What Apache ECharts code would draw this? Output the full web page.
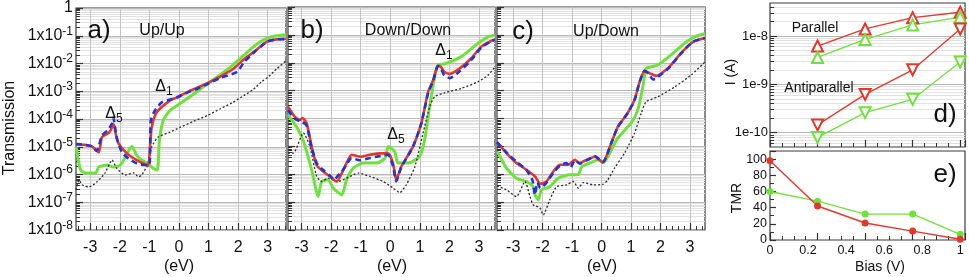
<!DOCTYPE html>
<html><head><meta charset="utf-8">
<script src="https://cdn.jsdelivr.net/npm/echarts@6/dist/echarts.min.js"></script>
<style>html,body{margin:0;padding:0;background:#fff}#c{width:969px;height:277px}</style>
</head><body><div id="c"></div>
<script>
// ---------- DATA (x in eV, y as log10 of transmission) ----------
const aGreenLog = [[-3.48,-5.0],[-3.4,-5.5],[-3.32,-5.84],[-3.15,-5.95],[-2.82,-5.95],[-2.71,-5.73],[-2.43,-5.66],[-2.2,-5.73],[-1.98,-5.66],[-1.81,-5.37],[-1.59,-4.98],[-1.43,-5.3],[-1.26,-5.48],[-1.04,-5.6],[-0.87,-5.78],[-0.73,-5.84],[-0.66,-4.77],[-0.53,-4.05],[-0.3,-3.69],[0.03,-3.45],[0.5,-3.1],[1.0,-2.7],[1.4,-2.4],[1.83,-2.05],[2.2,-1.7],[2.5,-1.42],[2.75,-1.22],[3.0,-1.08],[3.3,-1.0],[3.62,-0.96]];
const aBlackLog = [[-3.48,-6.56],[-3.38,-6.2],[-3.26,-6.38],[-3.04,-6.45],[-2.78,-6.27],[-2.5,-5.95],[-2.26,-5.48],[-2.1,-5.78],[-1.81,-6.02],[-1.53,-5.94],[-1.37,-6.08],[-1.26,-6.02],[-1.04,-5.6],[-0.92,-5.0],[-0.7,-4.65],[-0.3,-4.47],[0.04,-4.3],[0.5,-4.08],[0.97,-3.87],[1.4,-3.63],[1.83,-3.4],[2.2,-3.15],[2.5,-2.95],[2.8,-2.65],[3.0,-2.5],[3.3,-2.2],[3.62,-1.9]];
const aRedLog = [[-3.48,-4.91],[-3.2,-4.93],[-2.93,-5.0],[-2.71,-5.2],[-2.6,-4.65],[-2.37,-4.5],[-2.2,-4.2],[-2.15,-4.47],[-2.04,-4.88],[-1.76,-5.24],[-1.43,-5.48],[-1.15,-5.63],[-1.04,-5.7],[-0.97,-4.9],[-0.92,-4.3],[-0.75,-3.76],[-0.3,-3.33],[-0.08,-3.23],[0.3,-3.02],[0.6,-2.88],[1.0,-2.69],[1.4,-2.47],[1.83,-2.2],[2.2,-1.85],[2.58,-1.54],[2.8,-1.35],[3.0,-1.2],[3.3,-1.13],[3.62,-1.11]];
const aBlueLog = [[-3.48,-4.9],[-3.2,-4.93],[-2.95,-4.98],[-2.78,-5.15],[-2.6,-4.59],[-2.4,-4.4],[-2.26,-4.15],[-2.22,-3.95],[-2.1,-4.7],[-1.93,-5.19],[-1.71,-5.42],[-1.43,-5.6],[-1.15,-5.66],[-1.0,-5.66],[-0.95,-4.05],[-0.81,-3.69],[-0.58,-3.4],[-0.3,-3.3],[-0.08,-3.23],[0.3,-3.04],[0.6,-2.92],[1.0,-2.72],[1.4,-2.52],[1.97,-2.3],[2.2,-1.95],[2.58,-1.56],[2.8,-1.36],[3.0,-1.2],[3.3,-1.13],[3.62,-1.12]];

const bGreenLog = [[-3.46,-3.87],[-3.17,-4.3],[-2.95,-4.77],[-2.66,-5.84],[-2.44,-6.8],[-2.32,-6.26],[-2.1,-6.2],[-1.93,-6.5],[-1.64,-6.74],[-1.48,-6.2],[-1.25,-5.78],[-0.91,-5.6],[-0.46,-5.6],[-0.18,-5.42],[-0.07,-5.0],[0.15,-5.19],[0.26,-5.6],[0.6,-5.6],[0.99,-5.37],[1.16,-4.77],[1.33,-3.58],[1.5,-2.5],[1.61,-2.08],[1.84,-2.04],[2.4,-1.78],[2.97,-1.3],[3.3,-1.08],[3.54,-1.0]];
const bBlackLog = [[-3.46,-5.24],[-3.28,-5.24],[-2.94,-4.52],[-2.72,-5.0],[-2.49,-6.08],[-2.32,-6.26],[-2.1,-6.14],[-1.76,-6.26],[-1.48,-6.14],[-1.08,-5.96],[-0.69,-6.08],[-0.24,-6.26],[0.1,-6.5],[0.32,-6.66],[0.54,-6.38],[0.83,-5.73],[1.11,-4.52],[1.33,-3.58],[1.5,-3.22],[1.84,-3.08],[2.4,-2.92],[2.97,-2.68],[3.3,-2.45],[3.54,-2.15]];
const bRedLog = [[-3.46,-3.58],[-3.22,-3.95],[-3.05,-4.05],[-2.97,-3.98],[-2.83,-4.17],[-2.66,-5.0],[-2.49,-5.68],[-2.27,-5.9],[-2.04,-6.08],[-1.81,-6.26],[-1.64,-5.96],[-1.48,-5.6],[-1.31,-5.3],[-1.03,-5.37],[-0.69,-5.3],[-0.35,-5.25],[-0.08,-5.25],[0.09,-5.6],[0.2,-6.2],[0.37,-5.73],[0.77,-5.0],[1.05,-4.17],[1.28,-3.04],[1.45,-2.62],[1.61,-2.11],[1.71,-2.15],[1.82,-2.32],[2.01,-2.4],[2.35,-2.2],[2.74,-1.84],[3.08,-1.42],[3.42,-1.21],[3.54,-1.17]];
const bBlueLog = [[-3.46,-3.7],[-3.22,-4.02],[-3.0,-4.12],[-2.83,-4.25],[-2.66,-5.05],[-2.49,-5.6],[-2.27,-5.85],[-2.04,-6.05],[-1.9,-6.2],[-1.81,-6.1],[-1.64,-5.9],[-1.48,-5.65],[-1.31,-5.42],[-1.03,-5.5],[-0.69,-5.42],[-0.35,-5.35],[-0.08,-5.3],[0.09,-5.7],[0.2,-6.25],[0.37,-5.75],[0.77,-5.0],[1.05,-4.17],[1.28,-3.08],[1.45,-2.65],[1.61,-2.12],[1.71,-2.2],[1.82,-2.45],[2.01,-2.55],[2.35,-2.3],[2.74,-1.9],[3.08,-1.45],[3.42,-1.22],[3.54,-1.18]];

const cGreenLog = [[-3.55,-5.2],[-3.51,-5.24],[-3.23,-5.78],[-2.89,-6.14],[-2.55,-6.26],[-2.32,-6.45],[-2.26,-6.74],[-2.15,-6.92],[-2.04,-6.56],[-1.76,-6.45],[-1.47,-6.14],[-1.08,-6.02],[-0.79,-6.02],[-0.68,-5.73],[-0.4,-5.6],[-0.12,-5.48],[0.08,-5.58],[0.33,-5.13],[0.55,-4.7],[1.0,-4.17],[1.23,-3.69],[1.4,-2.87],[1.51,-2.2],[1.68,-2.15],[1.91,-2.08],[2.36,-1.72],[2.82,-1.3],[3.16,-1.07],[3.51,-0.95]];
const cBlackLog = [[-3.55,-6.42],[-3.23,-6.56],[-2.89,-6.8],[-2.6,-6.26],[-2.43,-6.8],[-2.32,-7.1],[-2.1,-7.2],[-1.98,-7.46],[-1.76,-6.92],[-1.53,-6.45],[-1.19,-6.38],[-0.96,-6.26],[-0.79,-6.5],[-0.62,-6.3],[-0.28,-6.38],[0.05,-6.36],[0.21,-6.2],[0.44,-5.78],[0.78,-5.24],[1.12,-4.52],[1.35,-3.8],[1.51,-3.4],[1.91,-3.22],[2.48,-2.87],[3.04,-2.44],[3.51,-1.97]];
const cRedLog = [[-3.55,-4.85],[-3.23,-5.24],[-2.89,-5.6],[-2.55,-5.84],[-2.26,-6.08],[-2.08,-6.34],[-1.87,-6.26],[-1.64,-5.9],[-1.42,-5.66],[-1.13,-5.66],[-0.91,-5.48],[-0.74,-5.6],[-0.51,-5.48],[-0.23,-5.37],[0.04,-5.57],[0.33,-4.88],[0.55,-4.3],[0.89,-3.8],[1.12,-3.33],[1.29,-2.69],[1.46,-2.29],[1.68,-2.4],[1.85,-2.47],[2.25,-2.2],[2.7,-1.65],[3.1,-1.25],[3.51,-1.11]];
const cBlueLog = [[-3.55,-4.85],[-3.23,-5.22],[-2.89,-5.55],[-2.65,-5.75],[-2.55,-5.85],[-2.35,-6.2],[-2.26,-6.74],[-2.18,-6.3],[-2.08,-6.5],[-1.87,-6.3],[-1.64,-5.95],[-1.42,-5.7],[-1.2,-5.6],[-1.05,-5.75],[-0.91,-5.5],[-0.74,-5.62],[-0.51,-5.5],[-0.35,-5.42],[-0.23,-5.35],[0.04,-5.57],[0.33,-4.88],[0.55,-4.3],[0.89,-3.8],[1.12,-3.33],[1.29,-2.69],[1.46,-2.29],[1.6,-2.4],[1.75,-2.6],[1.85,-2.55],[2.25,-2.22],[2.7,-1.66],[3.1,-1.25],[3.51,-1.11]];

// panel d: current (A) vs bias (V)
const dBias = [0.25, 0.5, 0.75, 1.0];
const dParallelRed = [6.2e-9, 1.4e-8, 2.4e-8, 3.1e-8];
const dParallelGreen = [3.6e-9, 8.5e-9, 1.7e-8, 2.45e-8];
const dAntiRed = [1.45e-10, 6.2e-10, 2.0e-9, 1.4e-8];
const dAntiGreen = [8.0e-11, 2.6e-10, 4.9e-10, 2.9e-9];
// panel e: TMR vs bias
const eBias = [0, 0.25, 0.5, 0.75, 1.0];
const eRed = [98, 42, 21, 11, 1];
const eGreen = [60, 48, 32, 32, 7];

// tick labels
const xMajorTicks = [-3, -2, -1, 0, 1, 2, 3];
const xMinorTicks = [-3.4,-3.2,-2.8,-2.6,-2.4,-2.2,-1.8,-1.6,-1.4,-1.2,-0.8,-0.6,-0.4,-0.2,0.2,0.4,0.6,0.8,1.2,1.4,1.6,1.8,2.2,2.4,2.6,2.8,3.2,3.4,3.6];
const yDecades = [1e-8, 1e-7, 1e-6, 1e-5, 1e-4, 1e-3, 1e-2, 1e-1, 1];
const dDecades = [1e-10, 1e-9, 1e-8];
const eXLabels = [0, 0.2, 0.4, 0.6, 0.8, 1];

// ---------- helpers ----------
const FONT = '"Liberation Sans", Arial, Helvetica, sans-serif';
const toVal = arr => arr.map(p => [p[0], Math.pow(10, p[1])]);
function logMinor(lo, hi) { // minor log grid positions 2..9 x 10^n
  const out = [];
  for (let n = -12; n <= 0; n++) for (let m = 2; m <= 9; m++) {
    const v = m * Math.pow(10, n);
    if (v > lo && v < hi) out.push(v);
  }
  return out;
}
const RED = '#e2372b', GREEN = '#6ee23b', BLUE = '#2233dd', BLACK = '#2a2a2a';

const gridBase = {show: true, borderColor: '#3a3a3a', borderWidth: 1.2, backgroundColor: '#fff'};
const grid = [
  {left: 76, top: 7, width: 210, height: 223},
  {left: 288, top: 7, width: 207, height: 223},
  {left: 497, top: 7, width: 208, height: 223},
  {left: 770, top: 3, width: 195, height: 144},
  {left: 770, top: 151, width: 195, height: 89}
].map(g => Object.assign({}, gridBase, g));

const xRanges = [[-3.48, 3.62], [-3.46, 3.54], [-3.55, 3.51]];
const xAxis = [], yAxis = [], series = [];
const tickColor = '#333';
const noLine = {show: false, onZero: false};

for (let i = 0; i < 3; i++) {
  const [mn, mx] = xRanges[i];
  xAxis.push({
    gridIndex: i, type: 'value', min: mn, max: mx, position: 'bottom',
    axisLine: noLine,
    axisTick: {show: true, inside: true, length: 7, customValues: xMajorTicks, lineStyle: {color: tickColor, width: 1.2}},
    axisLabel: {show: true, customValues: xMajorTicks, fontSize: 16, margin: 10, color: '#111', fontFamily: FONT},
    splitLine: {show: true, lineStyle: {color: '#c4c4c4', width: 1}}
  });
  xAxis.push({
    gridIndex: i, type: 'value', min: mn, max: mx, position: 'bottom', offset: 0,
    axisLine: noLine,
    axisTick: {show: true, inside: true, length: 4, customValues: xMinorTicks, lineStyle: {color: tickColor, width: 1}},
    axisLabel: {show: false}, splitLine: {show: false}
  });
  yAxis.push({
    gridIndex: i, type: 'log', logBase: 10, min: 1e-8, max: 1, position: 'left',
    axisLine: noLine,
    axisTick: {show: true, inside: true, length: 7, customValues: yDecades, lineStyle: {color: tickColor, width: 1.2}},
    axisLabel: {
      show: i === 0, customValues: yDecades, fontSize: 16, margin: 3, color: '#111', fontFamily: FONT,
      formatter: v => { const e = Math.round(Math.log10(v)); return e === 0 ? '1' : '1x10{s|' + e + '}'; },
      rich: {s: {fontSize: 12, padding: [0, 0, 9, 0], fontFamily: FONT, color: '#111'}}
    },
    splitLine: {show: true, lineStyle: {color: '#b8b8b8', width: 1}}
  });
  yAxis.push({
    gridIndex: i, type: 'log', logBase: 10, min: 1e-8, max: 1, position: 'left', offset: 0,
    axisLine: noLine,
    axisTick: {show: true, inside: true, length: 4, customValues: logMinor(1e-8, 1), lineStyle: {color: tickColor, width: 1}},
    axisLabel: {show: false},
    splitLine: {show: true, lineStyle: {color: '#e2e2e2', width: 1}}
  });
}

const panels = [
  [aGreenLog, aBlackLog, aRedLog, aBlueLog],
  [bGreenLog, bBlackLog, bRedLog, bBlueLog],
  [cGreenLog, cBlackLog, cRedLog, cBlueLog]
];
panels.forEach((p, i) => {
  const base = {type: 'line', xAxisIndex: 2 * i, yAxisIndex: 2 * i, showSymbol: false, symbol: 'none', smooth: 0.2, silent: true, clip: true};
  series.push(Object.assign({}, base, {data: toVal(p[0]), lineStyle: {color: GREEN, width: 3}, z: 3}));
  series.push(Object.assign({}, base, {data: toVal(p[1]), lineStyle: {color: BLACK, width: 1.3, type: [2, 2]}, z: 4}));
  series.push(Object.assign({}, base, {data: toVal(p[2]), lineStyle: {color: RED, width: 2.6}, z: 5}));
  series.push(Object.assign({}, base, {data: toVal(p[3]), lineStyle: {color: BLUE, width: 2.6, type: [6, 4]}, z: 6}));
});

// panel d axes (xAxis index 6, yAxis index 6,7)
const deMax = 1.025;
xAxis.push({
  gridIndex: 3, type: 'value', min: 0, max: deMax, interval: 0.25, position: 'bottom',
  axisLine: noLine,
  axisTick: {show: true, inside: true, length: 7, lineStyle: {color: tickColor, width: 1.2}},
  minorTick: {show: true, splitNumber: 4, length: 4, lineStyle: {color: tickColor}},
  axisLabel: {show: false}, splitLine: {show: false}
});
yAxis.push({
  gridIndex: 3, type: 'log', logBase: 10, min: 5.06e-11, max: 4.82e-8, position: 'left',
  axisLine: noLine,
  axisTick: {show: true, inside: true, length: 7, customValues: dDecades, lineStyle: {color: tickColor, width: 1.2}},
  axisLabel: {show: true, customValues: dDecades, fontSize: 13, margin: 2, color: '#111', fontFamily: FONT,
    formatter: v => '1e' + Math.round(Math.log10(v))},
  splitLine: {show: true, lineStyle: {color: '#b8b8b8'}}
});
yAxis.push({
  gridIndex: 3, type: 'log', logBase: 10, min: 5.06e-11, max: 4.82e-8, position: 'left', offset: 0,
  axisLine: noLine,
  axisTick: {show: true, inside: true, length: 4, customValues: logMinor(5.06e-11, 4.82e-8), lineStyle: {color: tickColor}},
  axisLabel: {show: false},
  splitLine: {show: true, lineStyle: {color: '#e2e2e2'}}
});
// panel e axes (xAxis 7, yAxis 8)
xAxis.push({
  gridIndex: 4, type: 'value', min: 0, max: deMax, interval: 0.25, position: 'bottom',
  axisLine: noLine,
  axisTick: {show: true, inside: true, length: 7, lineStyle: {color: tickColor, width: 1.2}},
  minorTick: {show: true, splitNumber: 4, length: 4, lineStyle: {color: tickColor}},
  axisLabel: {show: true, customValues: eXLabels, fontSize: 12.5, margin: 4, color: '#111', fontFamily: FONT},
  splitLine: {show: false}
});
yAxis.push({
  gridIndex: 4, type: 'value', min: 0, max: 110, interval: 20, position: 'left',
  axisLine: noLine,
  axisTick: {show: true, inside: true, length: 6, lineStyle: {color: tickColor, width: 1.2}},
  minorTick: {show: true, splitNumber: 2, length: 4, lineStyle: {color: tickColor}},
  axisLabel: {show: true, showMaxLabel: false, fontSize: 12.5, margin: 3, color: '#111', fontFamily: FONT},
  splitLine: {show: false}
});

const zip = (xs, ys) => xs.map((x, k) => [x, ys[k]]);
const dBase = {type: 'line', xAxisIndex: 6, yAxisIndex: 6, symbolSize: 11, silent: true};
series.push(Object.assign({}, dBase, {data: zip(dBias, dParallelRed), symbol: 'emptyTriangle', color: RED, itemStyle: {color: RED, borderWidth: 1.3}, lineStyle: {color: RED, width: 1.3}}));
series.push(Object.assign({}, dBase, {data: zip(dBias, dParallelGreen), symbol: 'emptyTriangle', color: GREEN, itemStyle: {color: GREEN, borderWidth: 1.3}, lineStyle: {color: GREEN, width: 1.3}}));
series.push(Object.assign({}, dBase, {data: zip(dBias, dAntiRed), symbol: 'emptyTriangle', symbolRotate: 180, color: RED, itemStyle: {color: RED, borderWidth: 1.3}, lineStyle: {color: RED, width: 1.3}}));
series.push(Object.assign({}, dBase, {data: zip(dBias, dAntiGreen), symbol: 'emptyTriangle', symbolRotate: 180, color: GREEN, itemStyle: {color: GREEN, borderWidth: 1.3}, lineStyle: {color: GREEN, width: 1.3}}));

const eBase = {type: 'line', xAxisIndex: 7, yAxisIndex: 8, symbol: 'circle', symbolSize: 7, silent: true, clip: false};
series.push(Object.assign({}, eBase, {data: zip(eBias, eGreen), color: GREEN, itemStyle: {color: GREEN}, lineStyle: {color: GREEN, width: 1.4}}));
series.push(Object.assign({}, eBase, {data: zip(eBias, eRed), color: RED, itemStyle: {color: RED}, lineStyle: {color: RED, width: 1.4}}));

// ---------- text annotations ----------
function txt(x, y, text, size, extra) {
  return Object.assign({type: 'text', x: x, y: y, silent: true, z: 100,
    style: Object.assign({text: text, fill: '#111', font: size + 'px ' + FONT, align: 'center', verticalAlign: 'middle'}, extra || {})});
}
const subRich = {rich: {s: {fontSize: 12, padding: [9, 0, 0, 0], fontFamily: FONT, fill: '#111', color: '#111'}}};
const graphic = [
  txt(99, 31, 'a)', 26), txt(162, 31, 'Up/Up', 16),
  txt(114, 114, 'Δ{s|5}', 16, subRich), txt(164, 87, 'Δ{s|1}', 16, subRich),
  txt(312, 31, 'b)', 26), txt(408, 31, 'Down/Down', 16),
  txt(444, 51, 'Δ{s|1}', 16, subRich), txt(396, 135, 'Δ{s|5}', 16, subRich),
  txt(523, 32, 'c)', 26), txt(606, 32, 'Up/Down', 16),
  txt(179, 267, '(eV)', 16), txt(392, 267, '(eV)', 16), txt(602, 267, '(eV)', 16),
  Object.assign(txt(10, 128, 'Transmission', 16), {rotation: Math.PI / 2}),
  txt(815, 28, 'Parallel', 14), txt(819, 88, 'Antiparallel', 14),
  txt(945, 115, 'd)', 26), txt(945, 175, 'e)', 26),
  Object.assign(txt(731, 72, 'I (A)', 14), {rotation: Math.PI / 2}),
  Object.assign(txt(737, 198, 'TMR', 14), {rotation: Math.PI / 2}),
  txt(880, 267, 'Bias (V)', 14)
];

const chart = echarts.init(document.getElementById('c'), null, {renderer: 'canvas'});
chart.setOption({
  animation: false,
  textStyle: {fontFamily: FONT},
  grid: grid, xAxis: xAxis, yAxis: yAxis, series: series, graphic: graphic
});
</script></body></html>
